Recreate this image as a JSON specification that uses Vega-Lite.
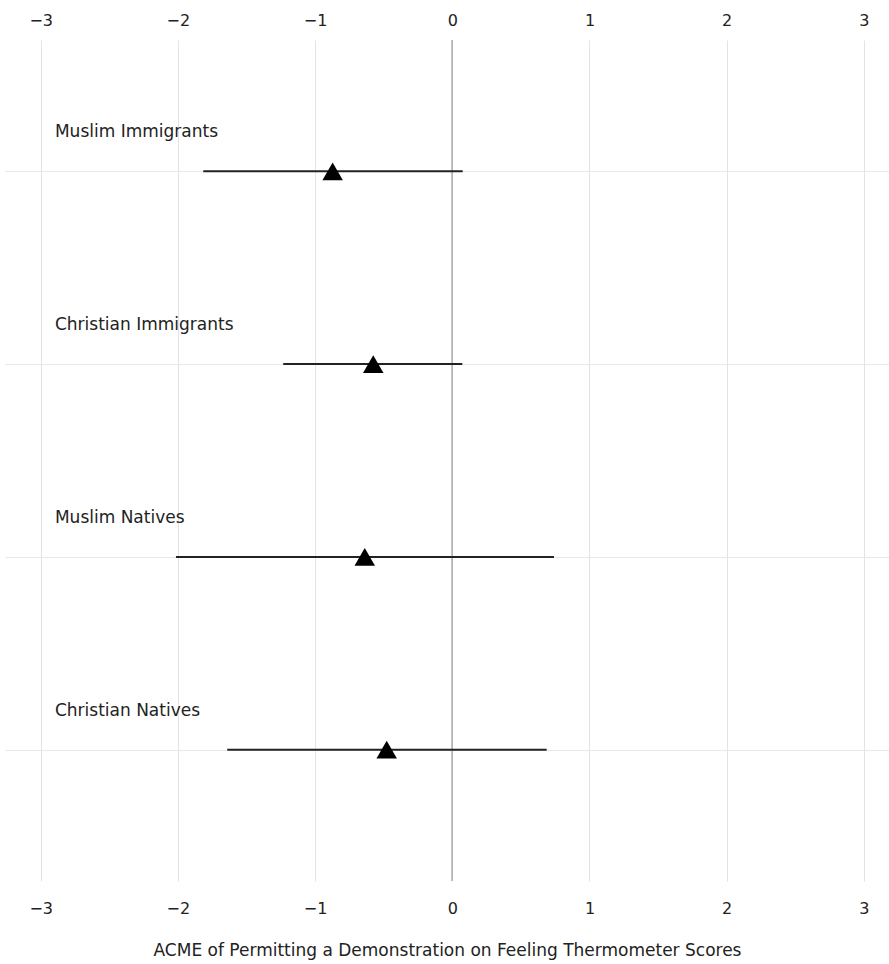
{
  "$schema": "https://vega.github.io/schema/vega-lite/v6.json",
  "autosize": {"type": "none"},
  "width": 884,
  "height": 841,
  "padding": {"left": 5, "top": 40, "right": 0, "bottom": 83},
  "config": {
    "view": {"stroke": null},
    "font": "DejaVu Sans",
    "axis": {"labelColor": "#222222", "titleColor": "#222222", "labelFont": "DejaVu Sans", "titleFont": "DejaVu Sans", "titleFontWeight": "normal"}
  },
  "data": {
    "values": [
      {"group": "Muslim Immigrants", "est": -0.872, "lo": -1.815, "hi": 0.076},
      {"group": "Christian Immigrants", "est": -0.576, "lo": -1.232, "hi": 0.073},
      {"group": "Muslim Natives", "est": -0.638, "lo": -2.014, "hi": 0.741},
      {"group": "Christian Natives", "est": -0.478, "lo": -1.64, "hi": 0.688}
    ]
  },
  "layer": [
    {
      "mark": {"type": "rule", "color": "#b5b5b5", "strokeWidth": 1.2},
      "encoding": {
        "x": {
          "datum": 0,
          "type": "quantitative",
          "scale": {"domain": [-3.26, 3.183], "nice": false, "zero": false},
          "axis": {"orient": "top", "grid": false, "ticks": false, "domain": false, "labelFontSize": 16, "labelPadding": 12, "title": null, "values": [-3, -2, -1, 0, 1, 2, 3]}
        }
      }
    },
    {
      "mark": {"type": "rule", "color": "#222222", "strokeWidth": 2},
      "encoding": {
        "y": {
          "field": "group",
          "type": "ordinal",
          "sort": ["Muslim Immigrants", "Christian Immigrants", "Muslim Natives", "Christian Natives"],
          "scale": {"type": "point", "padding": 0.681},
          "axis": {"grid": true, "gridColor": "#e8e8e8", "gridWidth": 1, "labels": false, "ticks": false, "domain": false, "title": null}
        },
        "x": {
          "field": "lo",
          "type": "quantitative",
          "scale": {"domain": [-3.26, 3.183], "nice": false, "zero": false},
          "axis": {"orient": "bottom", "grid": true, "gridColor": "#e3e3e3", "gridWidth": 1, "ticks": false, "domain": false, "labelFontSize": 16, "labelPadding": 19, "values": [-3, -2, -1, 0, 1, 2, 3], "title": "ACME of Permitting a Demonstration on Feeling Thermometer Scores", "titleFontSize": 17, "titlePadding": 26}
        },
        "x2": {"field": "hi"}
      }
    },
    {
      "mark": {"type": "point", "shape": "triangle-up", "filled": true, "color": "#000000", "opacity": 1, "size": 420},
      "encoding": {
        "y": {"field": "group", "type": "ordinal", "sort": ["Muslim Immigrants", "Christian Immigrants", "Muslim Natives", "Christian Natives"]},
        "x": {"field": "est", "type": "quantitative", "axis": null}
      }
    },
    {
      "mark": {"type": "text", "align": "left", "baseline": "alphabetic", "dy": -34, "fontSize": 17, "color": "#222222", "font": "DejaVu Sans"},
      "encoding": {
        "y": {"field": "group", "type": "ordinal", "sort": ["Muslim Immigrants", "Christian Immigrants", "Muslim Natives", "Christian Natives"]},
        "x": {"datum": -2.896, "type": "quantitative", "axis": null},
        "text": {"field": "group"}
      }
    }
  ],
  "resolve": {"axis": {"x": "independent"}}
}
